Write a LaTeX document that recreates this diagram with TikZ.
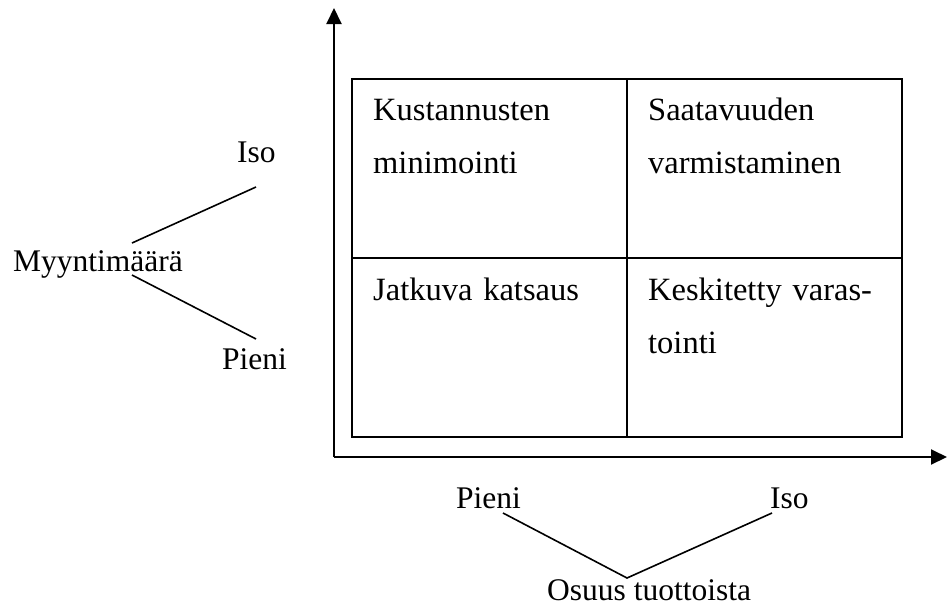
\documentclass[tikz,border=0pt]{standalone}
\usepackage{fontspec}
\setmainfont{Liberation Serif}
\usetikzlibrary{arrows.meta}
\tikzset{
  lbl/.style={anchor=base west, inner sep=0pt, font=\fontsize{31.5}{36}\selectfont},
  celltext/.style={anchor=base west, inner sep=0pt, text width=250pt, align=left, font=\fontsize{32.5}{53}\selectfont},
  cellbox/.style={draw, line width=2pt, minimum width=275pt, minimum height=179pt, inner sep=0pt},
  axis/.style={line width=2pt, -{Triangle[length=16pt,width=15pt]}},
  conn/.style={line width=1.6pt}
}
\begin{document}
\begin{tikzpicture}[x=1pt,y=-1pt]
\useasboundingbox (0,0) rectangle (948,606);
% axes
\coordinate (O) at (334,457);
\coordinate (ytip) at (334,8);
\coordinate (xtip) at (947,457);
\draw[axis] (O) -- (ytip);
\draw[axis] (O) -- (xtip);
% table cells
\node[cellbox] (c11) at (489.5,168.5) {};
\node[cellbox] (c12) at (764.5,168.5) {};
\node[cellbox] (c21) at (489.5,347.5) {};
\node[cellbox] (c22) at (764.5,347.5) {};
% cell texts
\node[celltext] (t11) at (373,120) {Kustannusten\\minimointi};
\node[celltext] (t12) at (648,120) {Saatavuuden\\varmistaminen};
\node[celltext] (t21) at (373,300) {Jatkuva katsaus};
\node[celltext] (t22) at (648,300) {Keskitetty varas-\\tointi};
% left labels
\node[lbl] (isoL) at (237,162) {Iso};
\node[lbl] (myy) at (13,271) {Myyntimäärä};
\node[lbl] (pieniL) at (222,369) {Pieni};
\coordinate (ma) at (132,243);
\coordinate (mb) at (132,275);
\coordinate (ia) at (256,187);
\coordinate (pa) at (256,339);
\draw[conn] (ma) -- (ia);
\draw[conn] (mb) -- (pa);
% bottom labels
\node[lbl] (pieniB) at (456,508) {Pieni};
\node[lbl] (isoB) at (770,508) {Iso};
\node[lbl] (osuus) at (547,600) {Osuus tuottoista};
\coordinate (pb) at (503,513);
\coordinate (vb) at (627,578);
\coordinate (ib) at (772,513);
\draw[conn] (pb) -- (vb) -- (ib);
\end{tikzpicture}
\end{document}
